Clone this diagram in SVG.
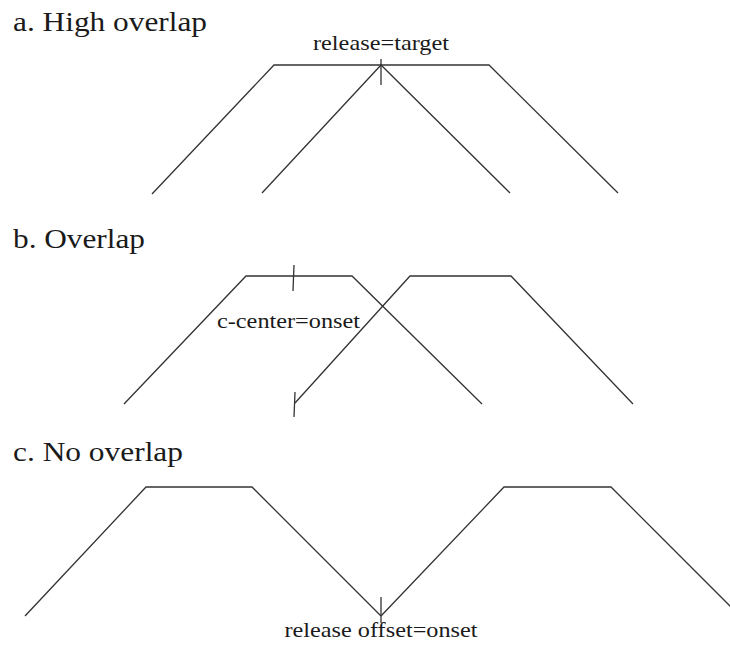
<svg xmlns="http://www.w3.org/2000/svg" width="730" height="648" viewBox="0 0 730 648">
  <style>
    .gesture { fill: none; stroke: #333; stroke-width: 1.3; stroke-linejoin: miter; }
    .tick { fill: none; stroke: #333; stroke-width: 1.3; }
    text { font-family: 'Liberation Serif', 'Times New Roman', Times, serif; fill: #1a1a1a; }
    .title { font-size: 28px; }
    .label { font-size: 22px; }
  </style>
  <rect width="730" height="648" fill="#ffffff"/>

  <!-- a. High overlap -->
  <g id="panel-a">
    <text class="title" x="13" y="31" textLength="194" lengthAdjust="spacingAndGlyphs">a. High overlap</text>
    <g id="a-gesture-1"><polyline class="gesture" points="152,194 274,65 489,65 618,193"/></g>
    <g id="a-gesture-2"><polyline class="gesture" points="262,193 381,65 510,193"/></g>
    <line class="tick" x1="381" y1="59" x2="381" y2="85"/>
    <text class="label" x="381" y="50" text-anchor="middle" textLength="136" lengthAdjust="spacingAndGlyphs">release=target</text>
  </g>

  <!-- b. Overlap -->
  <g id="panel-b">
    <text class="title" x="13" y="248" textLength="132" lengthAdjust="spacingAndGlyphs">b. Overlap</text>
    <g id="b-gesture-1"><polyline class="gesture" points="124,404 246,276 352,276 482,404"/></g>
    <g id="b-gesture-2"><polyline class="gesture" points="295,403 410,276 511,276 633,404"/></g>
    <line class="tick" x1="294" y1="265" x2="293" y2="291"/>
    <line class="tick" x1="295" y1="392" x2="294" y2="417"/>
    <text class="label" x="217" y="328" textLength="143" lengthAdjust="spacingAndGlyphs">c-center=onset</text>
  </g>

  <!-- c. No overlap -->
  <g id="panel-c">
    <text class="title" x="13" y="461" textLength="170" lengthAdjust="spacingAndGlyphs">c. No overlap</text>
    <g id="c-gesture-1"><polyline class="gesture" points="25,616 146,487 252,487 381,616"/></g>
    <g id="c-gesture-2"><polyline class="gesture" points="381,616 504,487 611,487 740,616"/></g>
    <line class="tick" x1="381" y1="597" x2="381" y2="623"/>
    <text class="label" x="381" y="637" text-anchor="middle" textLength="193" lengthAdjust="spacingAndGlyphs">release offset=onset</text>
  </g>
</svg>
